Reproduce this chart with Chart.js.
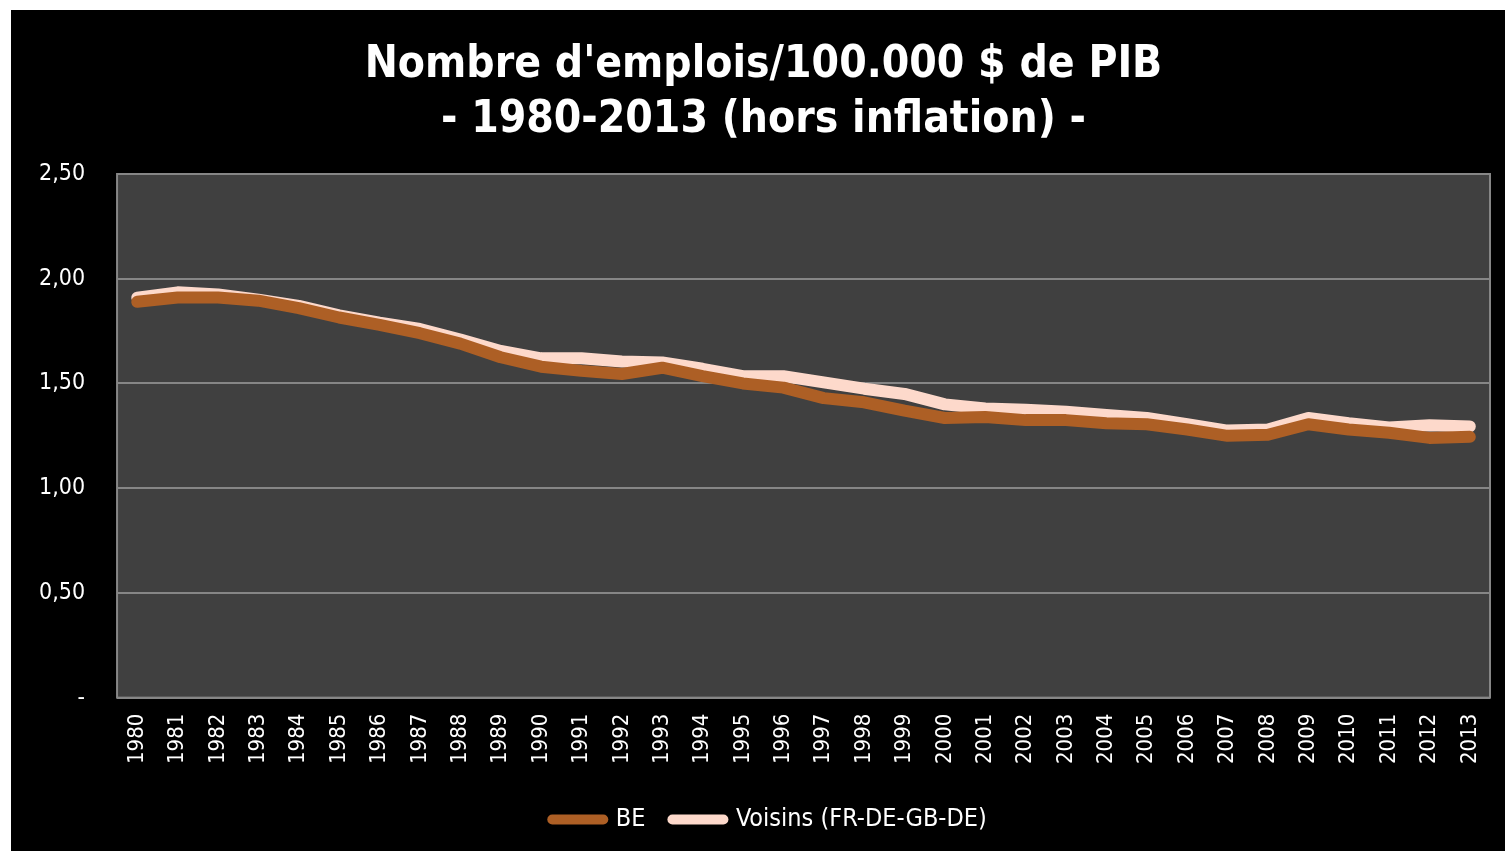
<!DOCTYPE html>
<html>
<head>
<meta charset="utf-8">
<script src="https://cdn.jsdelivr.net/npm/chart.js@4.4.1/dist/chart.umd.min.js"></script>
<style>
  html, body { margin: 0; padding: 0; background: #ffffff; }
  #wrap { position: absolute; left: 11px; top: 10px; width: 1494px; height: 841px; background: #000000; }
</style>
</head>
<body>
<div id="wrap"><canvas id="emploisChart"></canvas></div>
<script>
// Nombre d'emplois / 100.000 $ de PIB, 1980-2013
const years = ['1980','1981','1982','1983','1984','1985','1986','1987','1988','1989',
               '1990','1991','1992','1993','1994','1995','1996','1997','1998','1999',
               '2000','2001','2002','2003','2004','2005','2006','2007','2008','2009',
               '2010','2011','2012','2013'];
const beValues = [1.89, 1.91, 1.91, 1.895, 1.86, 1.815, 1.78, 1.74, 1.69, 1.625,
                  1.58, 1.56, 1.545, 1.575, 1.535, 1.50, 1.48, 1.43, 1.41, 1.37,
                  1.335, 1.34, 1.325, 1.325, 1.31, 1.305, 1.28, 1.25, 1.255, 1.305,
                  1.28, 1.265, 1.24, 1.245];
const voisinsValues = [1.91, 1.935, 1.925, 1.90, 1.87, 1.825, 1.79, 1.76, 1.71, 1.655,
                       1.62, 1.62, 1.605, 1.60, 1.57, 1.535, 1.535, 1.505, 1.475, 1.45,
                       1.40, 1.38, 1.375, 1.365, 1.35, 1.335, 1.305, 1.275, 1.28, 1.335,
                       1.31, 1.29, 1.30, 1.295];
const seriesNames = ['BE', 'Voisins (FR-DE-GB-DE)'];
const yTicks = [0, 0.5, 1, 1.5, 2, 2.5];

const FONT = '"DejaVu Sans Condensed", "DejaVu Sans", sans-serif';

// grey plot area + frame, and nudge title / legend to the right like the original
const plotFrame = {
    id: 'plotFrame',
    afterLayout(chart) {
        if (chart.titleBlock) chart.titleBlock.left += 30;
        if (chart.legend) chart.legend.left += 42;
    },
    beforeDraw(chart) {
        const a = chart.chartArea;
        const ctx = chart.ctx;
        ctx.save();
        ctx.fillStyle = '#404040';
        ctx.fillRect(a.left, a.top, a.right - a.left, a.bottom - a.top);
        ctx.restore();
    },
    beforeDatasetsDraw(chart) {
        const a = chart.chartArea;
        const ctx = chart.ctx;
        ctx.save();
        ctx.strokeStyle = '#868686';
        ctx.lineWidth = 2;
        ctx.strokeRect(a.left, a.top, a.right - a.left, a.bottom - a.top);
        ctx.restore();
    }
};

const ctx = document.getElementById('emploisChart').getContext('2d');
const emploisChart = new Chart(ctx, {
    type: 'line',
    data: {
        labels: years,
        datasets: [{
            label: seriesNames[0],
            data: beValues,
            borderColor: '#ad5f25',
            backgroundColor: '#ad5f25',
            borderWidth: 12,
            borderCapStyle: 'round',
            borderJoinStyle: 'round',
            pointRadius: 0,
            tension: 0
        }, {
            label: seriesNames[1],
            data: voisinsValues,
            borderColor: '#fdd9cb',
            backgroundColor: '#fdd9cb',
            borderWidth: 12,
            borderCapStyle: 'round',
            borderJoinStyle: 'round',
            pointRadius: 0,
            tension: 0
        }]
    },
    options: {
        responsive: true,
        maintainAspectRatio: false,
        animation: false,
        layout: { padding: { left: -4, right: 15, top: 0, bottom: 9 } },
        plugins: {
            title: {
                display: true,
                text: ["Nombre d'emplois/100.000 $ de PIB", '- 1980-2013 (hors inflation) -'],
                color: '#ffffff',
                font: { family: FONT, size: 44, weight: 'bold', lineHeight: 1.25 },
                padding: { top: 28, bottom: 26 }
            },
            legend: {
                position: 'bottom',
                labels: {
                    color: '#ffffff',
                    font: { family: FONT, size: 25 },
                    usePointStyle: true,
                    pointStyle: 'line',
                    pointStyleWidth: 51,
                    padding: 27,
                    generateLabels(chart) {
                        return Chart.defaults.plugins.legend.labels.generateLabels(chart)
                            .map(l => Object.assign(l, { lineCap: 'round', lineWidth: 10 }));
                    }
                }
            },
            tooltip: { enabled: false }
        },
        scales: {
            x: {
                offset: true,
                grid: { display: false, drawTicks: false },
                border: { display: false },
                afterFit(scale) {
                    scale.paddingLeft = 0;
                    scale.paddingRight = 0;
                },
                ticks: {
                    color: '#ffffff',
                    font: { family: FONT, size: 22 },
                    minRotation: 90,
                    maxRotation: 90,
                    autoSkip: false,
                    padding: 16
                }
            },
            y: {
                min: 0,
                max: 2.5,
                afterBuildTicks(axis) {
                    axis.ticks = yTicks.map(v => ({ value: v }));
                },
                grid: { color: '#868686', lineWidth: 2, drawTicks: false },
                border: { display: false },
                ticks: {
                    color: '#ffffff',
                    font: { family: FONT, size: 23 },
                    padding: 32,
                    callback: v => v === 0 ? '-' : v.toFixed(2).replace('.', ',')
                }
            }
        }
    },
    plugins: [plotFrame]
});
</script>
</body>
</html>
